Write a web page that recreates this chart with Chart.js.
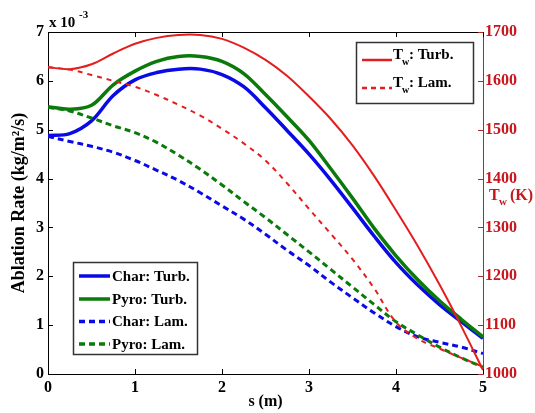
<!DOCTYPE html>
<html>
<head>
<meta charset="utf-8">
<script src="https://cdn.jsdelivr.net/npm/chart.js@4.4.0/dist/chart.umd.min.js"></script>
<style>
  body { margin: 0; background: #fff; }
  #chart { display: block; }
</style>
</head>
<body>
<canvas id="chart" width="535" height="413"></canvas>
<script>
// Data (s in metres)
const sValues = [0, 0.25, 0.5, 0.75, 1, 1.25, 1.5, 1.75, 2, 2.25, 2.5, 2.75, 3, 3.25, 3.5, 3.75, 4, 4.25, 4.5, 4.75, 5];

// Ablation rate, x 10^-3 kg/m^2/s
const charTurb = [4.88, 4.92, 5.18, 5.7, 6.02, 6.17, 6.24, 6.24, 6.13, 5.88, 5.45, 4.98, 4.5, 3.97, 3.4, 2.82, 2.28, 1.82, 1.42, 1.07, 0.73];
const pyroTurb = [5.47, 5.42, 5.5, 5.92, 6.2, 6.4, 6.5, 6.5, 6.4, 6.15, 5.72, 5.26, 4.78, 4.2, 3.6, 2.98, 2.42, 1.93, 1.5, 1.12, 0.76];
const charLam = [4.86, 4.76, 4.66, 4.54, 4.37, 4.17, 3.96, 3.71, 3.44, 3.17, 2.86, 2.53, 2.22, 1.88, 1.56, 1.25, 0.97, 0.76, 0.65, 0.55, 0.42];
const pyroLam = [5.46, 5.38, 5.24, 5.08, 4.94, 4.74, 4.48, 4.19, 3.87, 3.53, 3.2, 2.85, 2.5, 2.14, 1.78, 1.42, 1.07, 0.8, 0.55, 0.33, 0.14];

// Wall temperature (K)
const twTurb = [1628, 1624, 1634, 1656, 1676, 1688, 1694, 1694, 1686, 1668, 1643, 1610, 1568, 1522, 1468, 1405, 1335, 1262, 1183, 1098, 1008];
const twLam = [1628, 1623, 1612, 1600, 1588, 1571, 1551, 1529, 1502, 1472, 1437, 1390, 1338, 1287, 1235, 1175, 1106, 1072, 1052, 1033, 1015];

const xTicks = [0, 1, 2, 3, 4, 5];
const yTicks = [0, 1, 2, 3, 4, 5, 6, 7];
const tTicks = [1000, 1100, 1200, 1300, 1400, 1500, 1600, 1700];

const BLUE = '#0a0ae6';
const GREEN = '#0a7a0a';
const RED = '#e41e1e';
const RED_TEXT = '#c8161c';
const SERIF = "'Liberation Serif', 'Times New Roman', serif";

function pts(ys) {
    return sValues.map((s, i) => ({ x: s, y: ys[i] }));
}

// Draws frame ticks, labels and both legend boxes
const decorations = {
    id: 'decorations',
    afterDraw(chart) {
        const ctx = chart.ctx;
        const a = chart.chartArea;
        const xs = chart.scales.x, ys = chart.scales.y, ts = chart.scales.y1;
        ctx.save();

        // top border
        ctx.strokeStyle = '#000';
        ctx.lineWidth = 1;
        ctx.beginPath();
        ctx.moveTo(a.left, a.top + 0.5);
        ctx.lineTo(a.right, a.top + 0.5);
        ctx.stroke();

        // inward tick marks
        ctx.beginPath();
        xTicks.forEach(v => {
            const px = Math.round(xs.getPixelForValue(v)) + 0.5;
            ctx.moveTo(px, a.bottom); ctx.lineTo(px, a.bottom - 5);
            ctx.moveTo(px, a.top); ctx.lineTo(px, a.top + 5);
        });
        yTicks.forEach(v => {
            const py = Math.round(ys.getPixelForValue(v)) + 0.5;
            ctx.moveTo(a.left, py); ctx.lineTo(a.left + 5, py);
        });
        ctx.stroke();
        ctx.strokeStyle = '#b02828';
        ctx.beginPath();
        tTicks.forEach(v => {
            const py = Math.round(ts.getPixelForValue(v)) + 0.5;
            ctx.moveTo(a.right, py); ctx.lineTo(a.right - 5, py);
        });
        ctx.stroke();

        // y-axis title
        ctx.fillStyle = '#000';
        ctx.font = `bold 18px ${SERIF}`;
        ctx.textAlign = 'center';
        ctx.textBaseline = 'middle';
        ctx.save();
        ctx.translate(19, (a.top + a.bottom) / 2);
        ctx.rotate(-Math.PI / 2);
        ctx.fillText('Ablation Rate (kg/m²/s)', 0, 0);
        ctx.restore();

        // x-axis title
        ctx.font = `bold 16px ${SERIF}`;
        ctx.fillText('s (m)', (a.left + a.right) / 2, 402);

        // exponent label
        ctx.textAlign = 'left';
        ctx.textBaseline = 'alphabetic';
        ctx.font = `bold 15px ${SERIF}`;
        ctx.fillText('x 10', 49, 27);
        ctx.font = `bold 11px ${SERIF}`;
        ctx.fillText('-3', 79, 18);

        // right axis title
        ctx.fillStyle = RED_TEXT;
        ctx.font = `bold 16px ${SERIF}`;
        ctx.fillText('T', 489, 200);
        ctx.font = `bold 11px ${SERIF}`;
        ctx.fillText('w', 499, 205);
        ctx.font = `bold 16px ${SERIF}`;
        ctx.fillText(' (K)', 506, 200);

        // lower-left legend
        ctx.fillStyle = '#fff';
        ctx.fillRect(73.5, 262.5, 124, 92);
        ctx.strokeStyle = '#333';
        ctx.lineWidth = 1.5;
        ctx.strokeRect(73.5, 262.5, 124, 92);
        const rows = [
            { label: 'Char: Turb.', color: BLUE, dash: [], y: 276 },
            { label: 'Pyro: Turb.', color: GREEN, dash: [], y: 299 },
            { label: 'Char: Lam.', color: BLUE, dash: [6, 4], y: 321.5 },
            { label: 'Pyro: Lam.', color: GREEN, dash: [6, 4], y: 344 }
        ];
        ctx.font = `bold 15px ${SERIF}`;
        ctx.textBaseline = 'middle';
        rows.forEach(r => {
            ctx.strokeStyle = r.color;
            ctx.lineWidth = 3.5;
            ctx.setLineDash(r.dash);
            ctx.beginPath();
            ctx.moveTo(79, r.y); ctx.lineTo(110, r.y);
            ctx.stroke();
            ctx.setLineDash([]);
            ctx.fillStyle = '#000';
            ctx.fillText(r.label, 112, r.y + 1);
        });

        // upper-right legend
        ctx.fillStyle = '#fff';
        ctx.fillRect(356.5, 42.5, 117, 61);
        ctx.strokeStyle = '#333';
        ctx.lineWidth = 1.5;
        ctx.strokeRect(356.5, 42.5, 117, 61);
        const rrows = [
            { label: ': Turb.', dash: [], y: 60 },
            { label: ': Lam.', dash: [5, 4], y: 88 }
        ];
        ctx.textBaseline = 'alphabetic';
        rrows.forEach(r => {
            ctx.strokeStyle = RED;
            ctx.lineWidth = 2.5;
            ctx.setLineDash(r.dash);
            ctx.beginPath();
            ctx.moveTo(362, r.y); ctx.lineTo(392, r.y);
            ctx.stroke();
            ctx.setLineDash([]);
            ctx.fillStyle = '#000';
            ctx.font = `bold 15px ${SERIF}`;
            ctx.fillText('T', 393, r.y - 1);
            ctx.font = `bold 10px ${SERIF}`;
            ctx.fillText('w', 402, r.y + 5);
            ctx.font = `bold 15px ${SERIF}`;
            ctx.fillText(r.label, 409, r.y - 1);
        });

        ctx.restore();
    }
};

const tickFont = { family: SERIF, size: 16, weight: 'bold' };

new Chart(document.getElementById('chart'), {
    type: 'line',
    data: {
        datasets: [
            { label: 'Tw: Turb.', data: pts(twTurb), yAxisID: 'y1', borderColor: RED, borderWidth: 2 },
            { label: 'Tw: Lam.', data: pts(twLam), yAxisID: 'y1', borderColor: RED, borderWidth: 2, borderDash: [5, 5] },
            { label: 'Pyro: Lam.', data: pts(pyroLam), yAxisID: 'y', borderColor: GREEN, borderWidth: 3, borderDash: [6, 4] },
            { label: 'Char: Lam.', data: pts(charLam), yAxisID: 'y', borderColor: BLUE, borderWidth: 3, borderDash: [6, 4] },
            { label: 'Pyro: Turb.', data: pts(pyroTurb), yAxisID: 'y', borderColor: GREEN, borderWidth: 3.5 },
            { label: 'Char: Turb.', data: pts(charTurb), yAxisID: 'y', borderColor: BLUE, borderWidth: 3.5 }
        ]
    },
    options: {
        responsive: false,
        animation: false,
        layout: { padding: { top: 32, left: 0, right: 0, bottom: 0 } },
        elements: {
            point: { radius: 0 },
            line: { tension: 0.35, fill: false }
        },
        plugins: {
            legend: { display: false },
            tooltip: { enabled: false }
        },
        scales: {
            x: {
                type: 'linear', min: 0, max: 5,
                ticks: { stepSize: 1, color: '#000', font: tickFont, padding: 4, maxRotation: 0 },
                grid: { display: false, drawTicks: false },
                border: { display: true, color: '#000', width: 1 },
                afterFit: s => { s.height = 39; }
            },
            y: {
                position: 'left', min: 0, max: 7,
                ticks: { stepSize: 1, color: '#000', font: tickFont, padding: 4 },
                grid: { display: false, drawTicks: false },
                border: { display: true, color: '#000', width: 1 },
                afterFit: s => { s.width = 48; }
            },
            y1: {
                position: 'right', min: 1000, max: 1700,
                ticks: { stepSize: 100, color: RED_TEXT, font: tickFont, padding: 2, callback: v => String(v) },
                grid: { display: false, drawTicks: false },
                border: { display: true, color: '#b02828', width: 1 },
                afterFit: s => { s.width = 52; }
            }
        }
    },
    plugins: [decorations]
});
</script>
</body>
</html>
